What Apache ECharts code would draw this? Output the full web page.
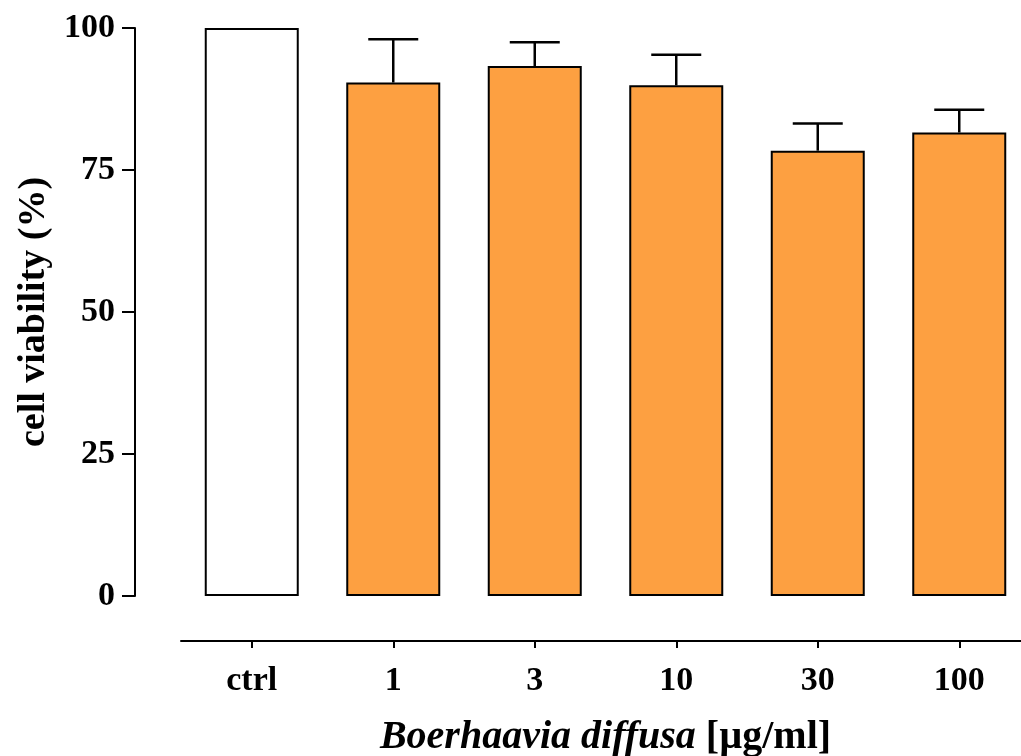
<!DOCTYPE html>
<html>
<head>
<meta charset="utf-8">
<script src="https://cdn.jsdelivr.net/npm/echarts@6/dist/echarts.min.js"></script>
<style>
  html, body { margin: 0; padding: 0; background: #fff; }
  #chart { width: 1021px; height: 756px; }
</style>
</head>
<body>
<div id="chart"></div>
<script>
// Treatment groups: control and Boerhaavia diffusa concentrations (µg/ml)
const categories = ['ctrl', '1', '3', '10', '30', '100'];
// Mean cell viability (%) per group
const viability = [100, 90.4, 93.3, 89.9, 78.4, 81.6];
// Upper error (SD) per group; control has none
const viabilitySD = [null, 7.6, 4.2, 5.4, 4.8, 4.0];
// Y axis ticks
const yTicks = [0, 25, 50, 75, 100];

const FONT = '"Liberation Serif", "Times New Roman", serif';
const ORANGE = '#FDA041';

const chart = echarts.init(document.getElementById('chart'), null, { renderer: 'canvas' });

const barData = viability.map((v, i) => ({
  value: v,
  itemStyle: { color: i === 0 ? '#ffffff' : ORANGE }
}));

const errData = viability.map((v, i) => [i, v, viabilitySD[i]]);

chart.setOption({
  animation: false,
  backgroundColor: '#ffffff',
  grid: { left: 181, top: 28, width: 849, height: 568, containLabel: false, outerBoundsMode: 'none' },
  xAxis: {
    type: 'category',
    data: categories,
    offset: 45,
    axisLine: { show: true, onZero: false, lineStyle: { color: '#000', width: 2 } },
    axisTick: { show: true, alignWithLabel: true, length: 7, lineStyle: { color: '#000', width: 2 } },
    axisLabel: { color: '#000', fontFamily: FONT, fontWeight: 'bold', fontSize: 34, margin: 23 },
    name: '{i|Boerhaavia diffusa}{n| [µg/ml]}',
    nameLocation: 'middle',
    nameGap: 77,
    nameTextStyle: {
      rich: {
        i: { fontFamily: FONT, fontWeight: 'bold', fontStyle: 'italic', fontSize: 40, color: '#000' },
        n: { fontFamily: FONT, fontWeight: 'bold', fontSize: 40, color: '#000' }
      }
    }
  },
  yAxis: {
    type: 'value',
    min: yTicks[0],
    max: yTicks[yTicks.length - 1],
    interval: yTicks[1] - yTicks[0],
    offset: 46,
    splitLine: { show: false },
    axisLine: { show: true, lineStyle: { color: '#000', width: 2 } },
    axisTick: { show: true, length: 13, lineStyle: { color: '#000', width: 2 } },
    axisLabel: { color: '#000', fontFamily: FONT, fontWeight: 'bold', fontSize: 34, margin: 20 },
    name: 'cell viability (%)',
    nameLocation: 'middle',
    nameGap: 80,
    nameTextStyle: { color: '#000', fontFamily: FONT, fontWeight: 'bold', fontSize: 38 }
  },
  series: [
    {
      type: 'bar',
      data: barData,
      barWidth: 94,
      itemStyle: { borderColor: '#000', borderWidth: 2 },
      z: 2
    },
    {
      type: 'custom',
      data: errData,
      z: 3,
      renderItem: function (params, api) {
        const sd = api.value(2);
        if (sd === null || isNaN(sd)) return null;
        const x = api.value(0);
        const m = api.value(1);
        const base = api.coord([x, m]);
        const top = api.coord([x, m + sd]);
        const half = 25;
        const style = { stroke: '#000', lineWidth: 2.5 };
        return {
          type: 'group',
          children: [
            { type: 'line', shape: { x1: base[0], y1: base[1], x2: top[0], y2: top[1] }, style: style },
            { type: 'line', shape: { x1: top[0] - half, y1: top[1], x2: top[0] + half, y2: top[1] }, style: style }
          ]
        };
      }
    }
  ]
});
</script>
</body>
</html>
